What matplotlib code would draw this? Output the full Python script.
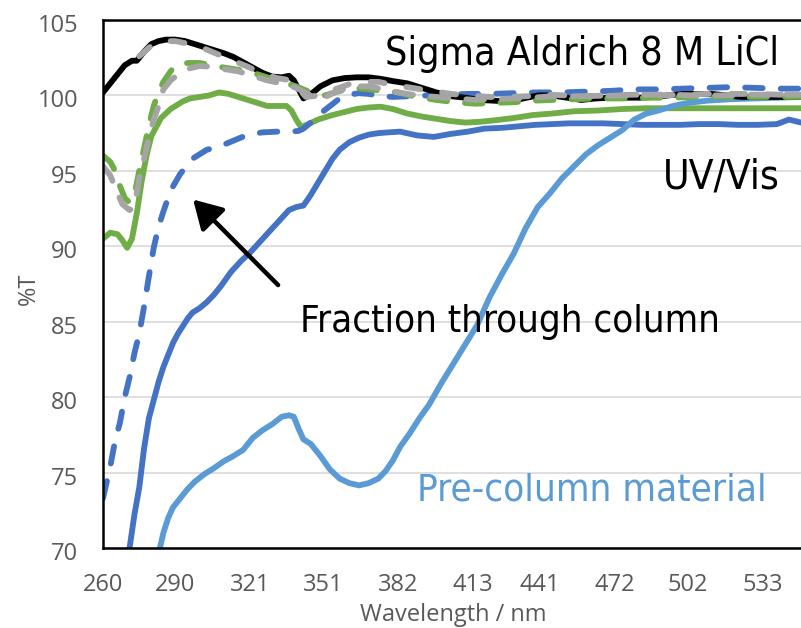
import os
import matplotlib
matplotlib.use("Agg")
import matplotlib.pyplot as plt
import matplotlib.transforms as mtransforms
from matplotlib import font_manager
from matplotlib.font_manager import FontProperties

# ---- spectra: wavelength (nm) and transmittance (%T) ----
wl_sigma = [260, 263, 266, 269, 272, 274, 277, 280, 283, 286,
            290, 294, 298, 302, 306, 310, 314, 318, 322, 326,
            330, 334, 337, 339, 341, 343, 347, 350, 355, 360,
            365, 370, 375, 380, 386, 392, 398, 404, 410, 416,
            422, 428, 434, 440, 446, 452, 458, 464, 470, 476,
            482, 488, 494, 500, 506, 512, 518, 524, 530, 536,
            542, 549]
t_sigma = [100.2, 100.8, 101.4, 102.0, 102.3, 102.3, 102.9, 103.4, 103.6, 103.7,
           103.7, 103.6, 103.4, 103.2, 103.0, 102.8, 102.55, 102.2, 101.85, 101.5,
           101.25, 101.2, 101.3, 101.0, 100.4, 99.8, 100.2, 100.6, 101.0, 101.15,
           101.2, 101.2, 101.1, 100.95, 100.8, 100.5, 100.2, 99.95, 99.85, 99.7,
           99.65, 99.6, 99.8, 100.0, 100.0, 99.85, 99.7, 99.8, 99.85, 99.85,
           99.85, 99.9, 100.0, 100.1, 100.1, 100.1, 100.0, 99.9, 99.9, 99.9,
           99.9, 99.9]

wl_gray_a = [275, 280, 285, 290, 296, 302, 308, 314, 320, 326,
             332, 338, 344, 350, 356, 362, 368, 374, 380, 388,
             396, 404, 412, 420, 428, 436, 444, 452, 460, 470,
             480, 490, 500, 510, 520, 530, 540, 549]
t_gray_a = [102.6, 103.3, 103.6, 103.6, 103.4, 103.1, 102.7, 102.3, 101.9, 101.45,
            101.15, 101.0, 99.9, 100.0, 100.4, 100.75, 100.9, 100.9, 100.7, 100.5,
            100.3, 100.1, 100.0, 99.9, 99.9, 99.95, 100.05, 100.0, 99.95, 100.0,
            100.05, 100.0, 100.05, 100.1, 100.1, 100.1, 100.05, 100.05]

wl_gray_b = [260, 263, 265, 268, 271, 273, 275, 277, 279, 281,
             283, 285, 288, 292, 296, 300, 305, 310, 316, 322,
             328, 334, 340, 346, 352, 358, 364, 370, 376, 382,
             390, 398, 406, 414, 422, 430, 438, 446, 455, 465,
             475, 485, 495, 505, 515, 525, 535, 549]
t_gray_b = [95.3, 94.7, 93.9, 92.8, 92.4, 92.6, 94.5, 95.8, 97.2, 98.4,
            99.3, 100.4, 101.0, 101.5, 101.8, 101.95, 101.9, 101.75, 101.6, 101.3,
            101.0, 100.8, 100.5, 100.0, 99.9, 100.35, 100.6, 100.6, 100.4, 100.2,
            100.0, 99.9, 99.8, 99.7, 99.75, 99.8, 99.85, 99.95, 99.95, 99.95,
            100.0, 100.05, 100.05, 100.0, 100.0, 100.05, 100.05, 100.05]

wl_green_d = [260, 263, 265, 267, 269, 271, 273, 275, 277, 279,
              281, 283, 285, 288, 290, 295, 300, 305, 310, 316,
              322, 328, 334, 340, 346, 352, 358, 364, 370, 376,
              382, 390, 398, 406, 414, 422, 430, 438, 446, 455,
              465, 475, 485, 495, 505, 515, 525, 535, 549]
t_green_d = [96.0, 95.6, 95.0, 94.0, 93.2, 92.9, 93.4, 95.0, 96.5, 98.0,
             99.3, 100.2, 100.9, 101.6, 102.0, 102.15, 102.15, 102.0, 101.85, 101.7,
             101.5, 101.2, 100.9, 100.6, 100.2, 100.0, 100.3, 100.5, 100.4, 100.3,
             100.2, 99.9, 99.7, 99.55, 99.45, 99.5, 99.55, 99.65, 99.7, 99.75,
             99.8, 99.8, 99.85, 99.85, 99.9, 99.9, 99.9, 99.9, 99.9]

wl_green = [260, 263, 266, 268, 270, 272, 274, 276, 278, 280,
            282, 284, 286, 288, 290, 293, 296, 300, 304, 308,
            312, 316, 320, 324, 328, 332, 336, 338, 340, 342,
            345, 349, 355, 360, 365, 370, 375, 380, 386, 392,
            398, 404, 410, 416, 422, 430, 438, 446, 455, 465,
            475, 485, 495, 505, 515, 525, 535, 549]
t_green = [90.5, 90.9, 90.8, 90.4, 89.9, 90.5, 92.2, 94.3, 96.0, 97.3,
           97.9, 98.5, 98.8, 99.1, 99.3, 99.6, 99.8, 99.9, 100.0, 100.2,
           100.1, 99.9, 99.7, 99.5, 99.3, 99.3, 99.3, 99.0, 98.4, 97.9,
           98.1, 98.4, 98.7, 98.9, 99.1, 99.2, 99.25, 99.1, 98.8, 98.6,
           98.45, 98.3, 98.2, 98.25, 98.35, 98.5, 98.7, 98.8, 98.95, 99.0,
           99.1, 99.15, 99.15, 99.15, 99.15, 99.15, 99.15, 99.15]

wl_blue_d = [260, 261, 263, 265, 267, 269, 271, 273, 275, 277,
             279, 281, 283, 285, 288, 292, 297, 303, 308, 314,
             320, 326, 332, 338, 341, 343, 346, 350, 354, 358,
             362, 366, 370, 375, 380, 387, 395, 403, 411, 420,
             430, 440, 450, 460, 470, 480, 490, 500, 510, 520,
             530, 540, 549]
t_blue_d = [73.3, 74.0, 75.4, 77.1, 78.3, 80.0, 81.3, 82.9, 84.2, 86.0,
            88.0, 89.9, 91.3, 92.3, 93.7, 94.8, 95.8, 96.4, 96.6, 97.0,
            97.4, 97.55, 97.6, 97.6, 97.65, 97.8, 98.2, 98.8, 99.3, 99.8,
            100.05, 100.15, 100.1, 99.95, 99.9, 99.95, 100.0, 100.05, 100.1, 100.1,
            100.15, 100.2, 100.2, 100.25, 100.3, 100.4, 100.4, 100.45, 100.5, 100.55,
            100.5, 100.45, 100.45]

wl_blue = [271, 273, 275, 277, 279, 281, 283, 285, 287, 289,
           291, 293, 295, 297, 300, 303, 306, 309, 313, 317,
           321, 325, 329, 333, 337, 340, 343, 346, 349, 352,
           355, 358, 362, 366, 370, 374, 378, 383, 390, 397,
           404, 411, 418, 425, 432, 439, 446, 453, 460, 467,
           475, 483, 491, 499, 507, 515, 523, 531, 539, 544,
           549]
t_blue = [70.0, 72.2, 74.0, 76.6, 78.6, 79.8, 81.0, 82.0, 82.8, 83.6,
          84.2, 84.7, 85.2, 85.6, 85.9, 86.3, 86.8, 87.4, 88.3, 89.0,
          89.6, 90.3, 91.0, 91.7, 92.4, 92.6, 92.7, 93.4, 94.2, 95.0,
          95.8, 96.4, 96.9, 97.2, 97.4, 97.5, 97.55, 97.6, 97.35, 97.25,
          97.45, 97.6, 97.8, 97.85, 97.95, 98.05, 98.1, 98.15, 98.15, 98.15,
          98.1, 98.05, 98.05, 98.05, 98.1, 98.1, 98.05, 98.05, 98.1, 98.4,
          98.2]

wl_pre = [283, 285, 287, 289, 292, 295, 298, 302, 306, 310,
          314, 318, 322, 326, 330, 334, 337, 339, 341, 343,
          346, 350, 354, 358, 362, 366, 370, 374, 377, 380,
          383, 387, 391, 395, 400, 405, 410, 415, 420, 425,
          430, 435, 440, 445, 450, 455, 460, 465, 470, 475,
          480, 485, 490, 496, 502, 510, 520, 530, 540, 549]
t_pre = [69.6, 71.0, 72.0, 72.7, 73.3, 73.9, 74.4, 74.9, 75.3, 75.75,
         76.1, 76.5, 77.3, 77.8, 78.2, 78.7, 78.8, 78.7, 77.9, 77.2,
         76.9, 76.1, 75.2, 74.6, 74.3, 74.15, 74.3, 74.6, 75.1, 75.8,
         76.7, 77.6, 78.6, 79.5, 80.9, 82.2, 83.5, 84.8, 86.6, 88.1,
         89.5, 91.2, 92.6, 93.5, 94.5, 95.3, 96.1, 96.7, 97.2, 97.7,
         98.4, 98.8, 99.0, 99.3, 99.5, 99.65, 99.75, 99.8, 99.85, 99.9]

x_ticks = [260, 290, 321, 351, 382, 413, 441, 472, 502, 533]
y_ticks = [70, 75, 80, 85, 90, 95, 100, 105]

# ---- colours ----
C_BLUE = "#4472C4"
C_LBLUE = "#5B9BD5"
C_GREEN = "#70AD47"
C_GRAY = "#A5A5A5"
C_TEXT = "#595959"

tick_font = ["Open Sans", "DejaVu Sans"]


def narrow_font():
    """Pick a condensed sans face for the large annotations."""
    files = [f for f in font_manager.fontManager.ttflist]
    prefs = ["liberationsansnarrow-regular", "dejavusanscondensed.",
             "robotocondensed-regular", "notosans-condensed.", "notosanscondensed-regular"]
    for p in prefs:
        for f in files:
            if os.path.basename(f.fname).lower().startswith(p):
                return FontProperties(fname=f.fname)
    for f in files:
        n = (f.name + os.path.basename(f.fname)).lower()
        if (("narrow" in n or "condensed" in n) and f.style == "normal"
                and f.weight in (400, "normal", "regular") and "bold" not in n
                and "light" not in n and "italic" not in n and "mono" not in n):
            return FontProperties(fname=f.fname)
    return FontProperties(family=["Liberation Sans", "DejaVu Sans"])


fig = plt.figure(figsize=(8.01, 6.28), dpi=100)
W, H = 801, 628
ax = fig.add_axes([103 / W, 1 - 548 / H, (W - 103) / W, (548 - 20) / H])

LW = 4.2
dash_kw = dict(dash_capstyle="round", solid_capstyle="round")
solid_kw = dict(solid_capstyle="round", solid_joinstyle="round")

ax.plot(wl_blue, t_blue, color=C_BLUE, lw=LW, **solid_kw)
ax.plot(wl_green, t_green, color=C_GREEN, lw=LW, **solid_kw)
ax.plot(wl_pre, t_pre, color=C_LBLUE, lw=LW, **solid_kw)
ax.plot(wl_blue_d, t_blue_d, color=C_BLUE, lw=LW, dashes=(3.0, 3.1), **dash_kw)
ax.plot(wl_sigma, t_sigma, color="black", lw=LW, **solid_kw)
ax.plot(wl_green_d, t_green_d, color=C_GREEN, lw=LW, dashes=(3.0, 3.1), **dash_kw)
ax.plot(wl_gray_b, t_gray_b, color=C_GRAY, lw=LW, dashes=(3.0, 3.1), **dash_kw)
ax.plot(wl_gray_a, t_gray_a, color=C_GRAY, lw=LW, dashes=(2.4, 3.8), **dash_kw)

ax.set_xlim(260, 549)
ax.set_ylim(70, 105)
ax.set_xticks(x_ticks)
ax.set_xticklabels([str(v) for v in x_ticks])
ax.set_yticks(y_ticks)
ax.set_yticklabels([str(v) for v in y_ticks])
ax.tick_params(length=0, labelsize=17, labelcolor=C_TEXT)
ax.tick_params(axis="x", pad=18)
ax.tick_params(axis="y", pad=18)
shift_down = mtransforms.ScaledTranslation(0, -3 / 100, fig.dpi_scale_trans)
for lab in ax.get_xticklabels() + ax.get_yticklabels():
    lab.set_family(tick_font)
for lab in ax.get_yticklabels():
    lab.set_transform(lab.get_transform() + shift_down)

ax.set_axisbelow(True)
ax.yaxis.grid(True, color="#D9D9D9", lw=1.2)
for side in ("left", "bottom", "top"):
    ax.spines[side].set_color("black")
    ax.spines[side].set_linewidth(1.8)
ax.spines["right"].set_visible(False)

ax.set_xlabel("Wavelength / nm", fontsize=17, color=C_TEXT, family=tick_font)
ax.xaxis.set_label_coords((453.5 - 103) / 698, (548 - 621) / 528)
ax.xaxis.label.set_verticalalignment("baseline")
ax.set_ylabel("%T", fontsize=17, color=C_TEXT, family=tick_font)
ax.yaxis.set_label_coords((29 - 103) / 698, (548 - 289) / 528)
ax.yaxis.label.set_verticalalignment("center")
ax.yaxis.label.set_horizontalalignment("center")

# annotations, each sized so its width matches the space it occupies
fp = narrow_font()
notes = [
    ("Sigma Aldrich 8 M LiCl", 376.8, 102.0, "black", 393),
    ("UV/Vis", 492.0, 93.86, "black", 117),
    ("Fraction through column", 341.6, 84.3, "black", 420),
    ("Pre-column material", 390.1, 73.17, C_LBLUE, 349),
]
renderer = fig.canvas.get_renderer()
for txt, x, y, col, width_px in notes:
    t = ax.text(x, y, txt, fontproperties=fp.copy(), color=col,
                ha="left", va="baseline")
    t.set_fontsize(34)
    for _ in range(2):
        w = t.get_window_extent(renderer=renderer).width
        t.set_fontsize(min(34, t.get_fontsize() * width_px / w))

ax.annotate("", xy=(297.3, 93.1), xytext=(332.5, 87.43),
            arrowprops=dict(arrowstyle="-|>,head_length=0.86,head_width=0.5",
                            mutation_scale=20, lw=3.2, color="black",
                            shrinkA=0, shrinkB=0))

fig.savefig("out.png", dpi=100)
